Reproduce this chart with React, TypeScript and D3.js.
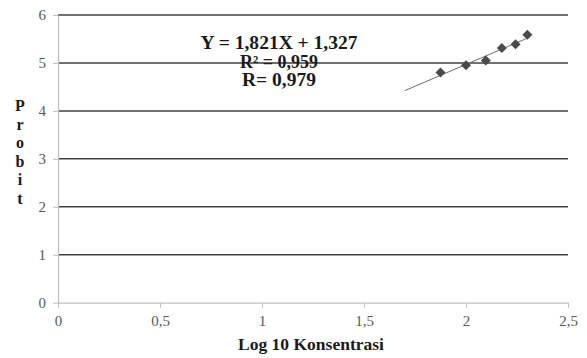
import React, { useEffect, useRef } from "react";
import * as d3 from "d3";

// probit vs log10 concentration
const logKonsentrasi = [1.875, 2.0, 2.097, 2.176, 2.243, 2.301];
const probit = [4.8, 4.95, 5.05, 5.31, 5.39, 5.59];
const xTicks = [0, 0.5, 1, 1.5, 2, 2.5];
const yTicks = [0, 1, 2, 3, 4, 5, 6];
const slope = 1.821;
const intercept = 1.327;
const trendRange = [1.7, 2.301];
const eqLines = ["Y = 1,821X + 1,327", "R² = 0,959", "R= 0,979"];
const eqWidths = [157, 78, 74];
const yTitle = "Probit";
const xTitle = "Log 10 Konsentrasi";

export default function App() {
  const ref = useRef<SVGSVGElement>(null);

  useEffect(() => {
    const svg = d3.select(ref.current);
    svg.selectAll("*").remove();
    const width = 587;
    const height = 358;
    svg.attr("width", width).attr("height", height);

    const x = d3.scaleLinear().domain([0, 2.5]).range([58, 568]);
    const y = d3.scaleLinear().domain([0, 6]).range([302.7, 15]);
    const font = "'Liberation Serif', 'Times New Roman', serif";
    const fmt = (d: number) => String(d).replace(".", ",");

    // gridlines
    svg.append("g").selectAll("line")
      .data(yTicks.filter((d) => d > 0))
      .join("line")
      .attr("x1", x(0)).attr("x2", x(2.5))
      .attr("y1", (d) => y(d)).attr("y2", (d) => y(d))
      .attr("stroke", "#404040").attr("stroke-width", 1.5);

    // axes
    const xAxis = svg.append("g").attr("transform", `translate(0,${y(0)})`)
      .call(d3.axisBottom(x).tickValues(xTicks).tickSize(5).tickSizeOuter(0).tickFormat((d) => fmt(+d)));
    xAxis.select(".domain").attr("stroke", "#bfbfbf").attr("stroke-width", 1.2);
    xAxis.selectAll(".tick line").attr("stroke", "#bfbfbf");
    xAxis.selectAll(".tick text").attr("fill", "#595959").attr("font-family", font)
      .attr("font-size", 15).attr("dy", "0.71em").attr("y", 13);

    const yAxis = svg.append("g").attr("transform", `translate(${x(0)},0)`)
      .call(d3.axisLeft(y).tickValues(yTicks).tickSize(5).tickSizeOuter(0).tickFormat((d) => fmt(+d)));
    yAxis.select(".domain").attr("stroke", "#bfbfbf").attr("stroke-width", 1.2);
    yAxis.selectAll(".tick line").attr("stroke", "#bfbfbf");
    yAxis.selectAll(".tick text").attr("fill", "#595959").attr("font-family", font)
      .attr("font-size", 15).attr("x", -12);

    // trendline
    svg.append("line")
      .attr("x1", x(trendRange[0])).attr("y1", y(slope * trendRange[0] + intercept))
      .attr("x2", x(trendRange[1])).attr("y2", y(slope * trendRange[1] + intercept))
      .attr("stroke", "#6e6e6e").attr("stroke-width", 1);

    // diamond markers
    const pts = logKonsentrasi.map((v, i) => [v, probit[i]]);
    svg.append("g").selectAll("path")
      .data(pts)
      .join("path")
      .attr("d", d3.symbol(d3.symbolSquare, 50)())
      .attr("transform", (d) => `translate(${x(d[0])},${y(d[1])}) rotate(45)`)
      .attr("fill", "#4a4a4a");

    // equation text
    svg.append("g").selectAll("text")
      .data(eqLines)
      .join("text")
      .attr("x", 279).attr("y", (d, i) => 49 + i * 18.5)
      .attr("text-anchor", "middle").attr("font-family", font)
      .attr("font-weight", "bold").attr("font-size", 18).attr("fill", "#1a1a1a")
      .attr("textLength", (d, i) => eqWidths[i]).attr("lengthAdjust", "spacingAndGlyphs")
      .text((d) => d);

    // y title, stacked letters
    svg.append("g").selectAll("text")
      .data(yTitle.split(""))
      .join("text")
      .attr("x", 20).attr("y", (d, i) => 111 + i * 18.5)
      .attr("text-anchor", "middle").attr("font-family", font)
      .attr("font-weight", "bold").attr("font-size", 16).attr("fill", "#1a1a1a")
      .text((d) => d);

    svg.append("text")
      .attr("x", 311).attr("y", 350)
      .attr("text-anchor", "middle").attr("font-family", font)
      .attr("font-weight", "bold").attr("font-size", 17.5).attr("fill", "#1a1a1a")
      .text(xTitle);
  }, []);

  return <svg ref={ref} style={{ position: "absolute", left: 0, top: 0, background: "#fff" }} />;
}
